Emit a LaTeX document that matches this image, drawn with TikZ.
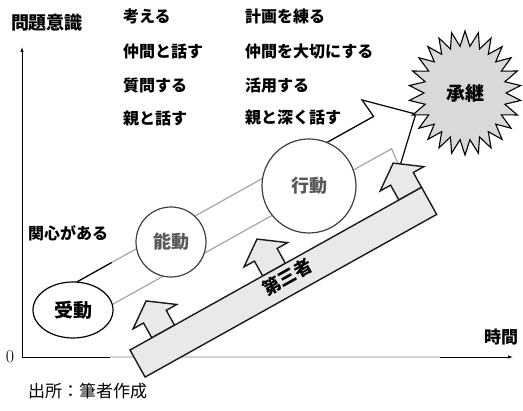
\documentclass[tikz,border=0pt]{standalone}
\usepackage{fontspec}
\newfontfamily\jp{Noto Sans CJK JP}
\usetikzlibrary{shapes.symbols,shapes.geometric,arrows.meta,calc}
\begin{document}
\begin{tikzpicture}[x=1pt,y=-1pt,
  lbl/.style={font=\jp\bfseries\fontsize{16}{18}\selectfont, anchor=west, inner sep=0pt},
  axisline/.style={line width=0.8pt, -{Latex[length=5pt,width=3.5pt]}},
  bandg/.style={gray!70, line width=1.2pt},
  bandk/.style={black, line width=1.2pt, line join=miter},
  circ/.style={circle, draw=black!75, line width=1.2pt, fill=white, inner sep=0pt,
    font=\jp\bfseries\fontsize{18}{20}\selectfont, text=black!65},
  barfill/.style={fill=gray!17, draw=black!90, line width=1.4pt, line join=miter},
]
\useasboundingbox (0,0) rectangle (523,411);

% axes
\coordinate (o) at (22,357);
\coordinate (ye) at (22,47);
\coordinate (xe) at (513,357);
\draw[axisline] (o) -- (ye);
\draw[axisline] (o) -- (xe);
\draw[gray!35, line width=1.6pt] (110,357) -- (440,357);

\node[font=\jp\bfseries\fontsize{18}{20}\selectfont, inner sep=0pt] (ylab) at (47,23) {問題意識};
\node[font=\jp\bfseries\fontsize{17}{19}\selectfont, inner sep=0pt] (xlab) at (501,337) {時間};
\node[font=\fontsize{18}{20}\selectfont, inner sep=0pt] (zero) at (10,357) {0};
\node[font=\jp\fontsize{17}{19}\selectfont, anchor=west, inner sep=0pt] (src) at (28,391) {出所：筆者作成};

% text lists
\node[lbl] (a1) at (123,16) {考える};
\node[lbl] (a2) at (123,51) {仲間と話す};
\node[lbl] (a3) at (123,85) {質問する};
\node[lbl] (a4) at (123,118) {親と話す};
\node[lbl] (b1) at (245,16) {計画を練る};
\node[lbl] (b2) at (245,51) {仲間を大切にする};
\node[lbl] (b3) at (245,85) {活用する};
\node[lbl] (b4) at (245,117) {親と深く話す};
\node[lbl] (c1) at (28,233) {関心がある};

% band arrow
\begin{scope}[shift={(75pt,-283pt)}, x={(0.873pt,0.487pt)}, y={(0.487pt,-0.873pt)}]
  \coordinate (u0) at (0,0);
  \coordinate (u1) at (42,0);
  \coordinate (u2) at (275,0);
  \coordinate (nU) at (342,0);
  \coordinate (hB) at (340,-20);
  \coordinate (hT) at (380,18.5);
  \coordinate (hC) at (340,57);
  \coordinate (nL) at (342,37);
  \coordinate (l0) at (15,37);
\end{scope}
\draw[bandg] (u0) -- (nU);
\draw[bandg] (l0) -- (nL) -- (hC);
\draw[bandk] (u0) -- (u1);
\draw[bandk] (u2) -- (nU) -- (hB) -- (hT) -- (hC);

% stage nodes
\node[ellipse, draw=black, line width=1.2pt, fill=white, minimum width=80pt, minimum height=56pt,
  inner sep=0pt, font=\jp\bfseries\fontsize{19}{21}\selectfont] (j) at (73,310) {受動};
\node[circ, minimum size=70pt] (n) at (171,242) {能動};
\node[circ, minimum size=94pt] (k) at (309,186) {行動};

% starburst
\node[starburst, starburst points=26, starburst point height=15pt, random starburst=0,
  draw=black, line width=1.1pt, fill=gray!30, minimum width=112pt, minimum height=124pt,
  inner sep=0pt, font=\jp\bfseries\fontsize{19}{21}\selectfont] (s) at (465,93) {承継};

% third party bar with arrows
\begin{scope}[shift={(130pt,-350pt)}, x={(0.873pt,0.487pt)}, y={(-0.487pt,0.873pt)}]
  \foreach \c in {38,165,321}{
    \draw[barfill] (\c-13,0) -- (\c-13,17) -- (\c-25,17) -- (\c,35) -- (\c+25,17)
      -- (\c+13,17) -- (\c+13,0) -- cycle;
  }
  \draw[barfill] (0,0) -- (334,0) -- (334,-31) -- (0,-31) -- cycle;
  \node[rotate=29.2, font=\jp\bfseries\fontsize{18}{20}\selectfont, inner sep=0pt] (t) at (173,-13) {第三者};
\end{scope}
\end{tikzpicture}
\end{document}
